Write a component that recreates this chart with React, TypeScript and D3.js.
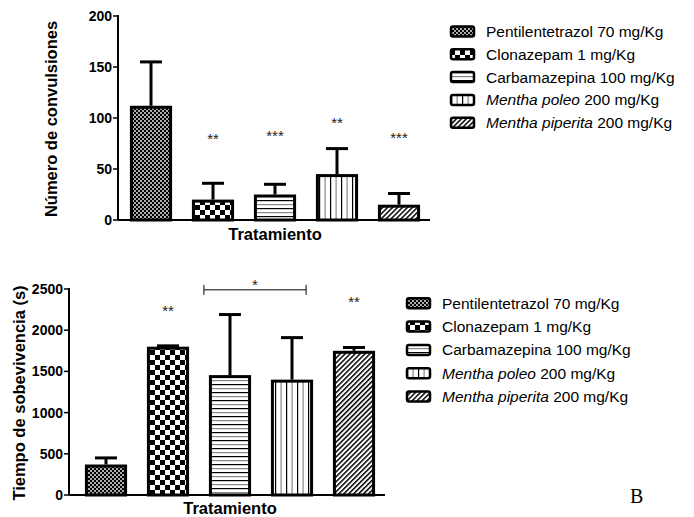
import React from "react";
import * as d3 from "d3";

// treatments, shared by both panels
const drugNames = ["Pentilentetrazol", "Clonazepam", "Carbamazepina", "Mentha poleo", "Mentha piperita"];
const doses = ["70 mg/Kg", "1 mg/Kg", "100 mg/Kg", "200 mg/Kg", "200 mg/Kg"];
const italicName = [false, false, false, true, true];

// panel A: número de convulsiones
const convMean = [112, 20, 25, 45, 15];
const convErr = [43, 16, 10, 25, 11];
const convSig = ["", "**", "***", "**", "***"];
const convSigAt = [0, 83, 86, 99, 84];
const convTicks = [0, 50, 100, 150, 200];

// panel B: tiempo de sobrevivencia
const survMean = [370, 1800, 1455, 1400, 1750];
const survErr = [80, 10, 735, 510, 40];
const survSig = ["", "**", "", "", "**"];
const survSigAt = [0, 2270, 0, 0, 2380];
const survTicks = [0, 500, 1000, 1500, 2000, 2500];
const bracketAt = 2490;

const patternIds = ["pat-dots", "pat-check", "pat-hlines", "pat-vlines", "pat-diag"];
const font = "'Liberation Sans', Arial, sans-serif";

function Patterns() {
  return (
    <defs>
      <pattern id="pat-dots" width={4} height={4} patternUnits="userSpaceOnUse">
        <rect width={4} height={4} fill="#000" />
        <circle cx={1} cy={1} r={0.9} fill="#fff" />
        <circle cx={3} cy={3} r={0.9} fill="#fff" />
      </pattern>
      <pattern id="pat-check" width={10} height={10} patternUnits="userSpaceOnUse">
        <rect width={10} height={10} fill="#fff" />
        <rect width={5} height={5} fill="#000" />
        <rect x={5} y={5} width={5} height={5} fill="#000" />
      </pattern>
      <pattern id="pat-hlines" width={8} height={8} patternUnits="userSpaceOnUse">
        <rect width={8} height={8} fill="#fff" />
        <rect y={0} width={8} height={1.2} fill="#000" />
        <rect y={4} width={8} height={1.2} fill="#888" />
      </pattern>
      <pattern id="pat-vlines" width={11} height={8} patternUnits="userSpaceOnUse">
        <rect width={11} height={8} fill="#fff" />
        <rect x={0} width={1.2} height={8} fill="#000" />
        <rect x={5.5} width={1.2} height={8} fill="#888" />
      </pattern>
      <pattern id="pat-diag" width={3.5} height={10} patternUnits="userSpaceOnUse" patternTransform="rotate(45)">
        <rect width={3.5} height={10} fill="#fff" />
        <rect width={1.5} height={10} fill="#000" />
      </pattern>
    </defs>
  );
}

type PanelProps = {
  means: number[];
  errs: number[];
  sig: string[];
  sigAt: number[];
  ticks: number[];
  yMax: number;
  axisX: number;
  y0: number;
  y1: number;
  xr: [number, number];
  title: string;
  titleX: number;
  xTitleY: number;
  children?: (x: d3.ScaleBand<string>, y: d3.ScaleLinear<number, number>) => React.ReactNode;
};

function Panel(p: PanelProps) {
  const x = d3.scaleBand<string>().domain(drugNames).range(p.xr).paddingInner(0.32).paddingOuter(0.16);
  const y = d3.scaleLinear().domain([0, p.yMax]).range([p.y0, p.y1]);
  const bw = x.bandwidth();
  return (
    <g fontFamily={font}>
      {drugNames.map((d, i) => {
        const bx = x(d)!;
        const cx = bx + bw / 2;
        const top = y(p.means[i]);
        const et = y(p.means[i] + p.errs[i]);
        return (
          <g key={d}>
            <line x1={cx} x2={cx} y1={top} y2={et} stroke="#000" strokeWidth={3} />
            <line x1={cx - 11} x2={cx + 11} y1={et} y2={et} stroke="#000" strokeWidth={3} />
            <rect x={bx + 1.5} y={top + 1.5} width={bw - 3} height={p.y0 - top - 1.5}
              fill={`url(#${patternIds[i]})`} stroke="#000" strokeWidth={3} />
            {p.sig[i] && (
              <text x={cx} y={y(p.sigAt[i]) + 8.5} textAnchor="middle" fontSize={15} fill="#222">{p.sig[i]}</text>
            )}
          </g>
        );
      })}
      <line x1={p.axisX} x2={p.axisX} y1={p.y1 - 1} y2={p.y0} stroke="#000" strokeWidth={2} />
      <line x1={p.axisX} x2={p.xr[1]} y1={p.y0} y2={p.y0} stroke="#000" strokeWidth={2} />
      {p.ticks.map(t => (
        <g key={t}>
          <line x1={p.axisX - 5} x2={p.axisX} y1={y(t)} y2={y(t)} stroke="#000" strokeWidth={1.5} />
          <text x={p.axisX - 6} y={y(t)} dy="0.36em" textAnchor="end" fontSize={14} fontWeight="bold">{t}</text>
        </g>
      ))}
      <text transform={`translate(${p.titleX},${(p.y0 + p.y1) / 2 + 1}) rotate(-90)`} textAnchor="middle"
        fontSize={16.5} fontWeight="bold">{p.title}</text>
      <text x={x(drugNames[2])! + bw / 2} y={p.xTitleY} textAnchor="middle" fontSize={16.5} fontWeight="bold">
        Tratamiento
      </text>
      {p.children && p.children(x, y)}
    </g>
  );
}

function Legend({ left, top, step }: { left: number; top: number; step: number }) {
  return (
    <g fontFamily={font} fontSize={15.5}>
      {drugNames.map((d, i) => {
        const cy = top + i * step;
        return (
          <g key={d}>
            <rect x={left + 1} y={cy - 5} width={23} height={10} rx={2}
              fill={`url(#${patternIds[i]})`} stroke="#000" strokeWidth={2.5} />
            <text x={left + 36} y={cy + 5.5}>
              <tspan fontStyle={italicName[i] ? "italic" : "normal"}>{d}</tspan>
              {" " + doses[i]}
            </text>
          </g>
        );
      })}
    </g>
  );
}

export default function App() {
  return (
    <svg width={694} height={517} style={{ position: "absolute", left: 0, top: 0, background: "#fff" }}>
      <Patterns />
      <Panel means={convMean} errs={convErr} sig={convSig} sigAt={convSigAt} ticks={convTicks} yMax={200}
        axisX={118} y0={220} y1={16} xr={[120, 430]} title="Número de convulsiones" titleX={57} xTitleY={240} />
      <Legend left={450} top={31.5} step={22.8} />
      <Panel means={survMean} errs={survErr} sig={survSig} sigAt={survSigAt} ticks={survTicks} yMax={2500}
        axisX={69} y0={495} y1={289} xr={[75, 385]} title="Tiempo de sobevivencia (s)" titleX={25} xTitleY={514}>
        {(x, y) => {
          const bw = x.bandwidth();
          const x1 = x(drugNames[2])! - 5;
          const x2 = x(drugNames[3])! + bw - 7;
          const by = y(bracketAt);
          return (
            <g>
              <line x1={x1} x2={x2} y1={by} y2={by} stroke="#000" strokeWidth={1} />
              <line x1={x1} x2={x1} y1={by - 5} y2={by + 5} stroke="#000" strokeWidth={1} />
              <line x1={x2} x2={x2} y1={by - 5} y2={by + 5} stroke="#000" strokeWidth={1} />
              <text x={(x1 + x2) / 2} y={by} dy={0.5} textAnchor="middle" fontSize={15} fill="#222">*</text>
            </g>
          );
        }}
      </Panel>
      <Legend left={406} top={303.3} step={23.3} />
      <text x={630} y={503} fontFamily="'Liberation Serif', 'Times New Roman', serif" fontSize={20}>B</text>
    </svg>
  );
}
